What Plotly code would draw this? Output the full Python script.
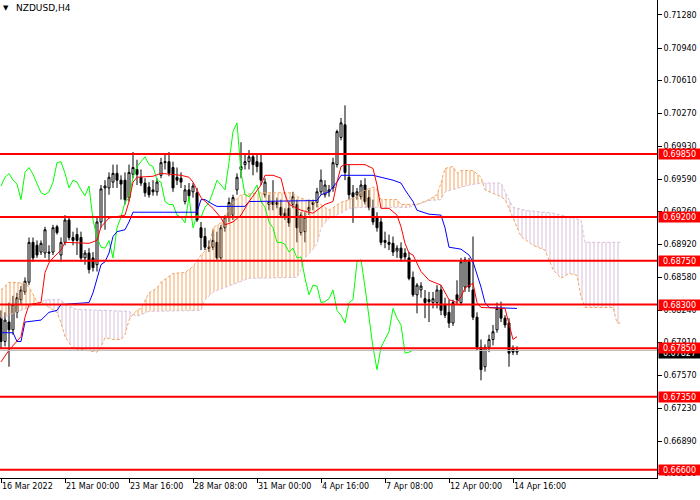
import plotly.graph_objects as go

# ---------------- data ----------------
tick_idx = [0, 16, 32, 48, 64, 80, 96, 112, 128]
tick_lbl = ["16 Mar 2022", "21 Mar 00:00", "23 Mar 16:00", "28 Mar 08:00", "31 Mar 00:00",
            "4 Apr 16:00", "7 Apr 08:00", "12 Apr 00:00", "14 Apr 16:00"]

price_ticks = [0.71280, 0.70940, 0.70610, 0.70270, 0.69930, 0.69590, 0.69260, 0.68920,
               0.68580, 0.68240, 0.67910, 0.67570, 0.67230, 0.66890, 0.66560]

levels = [0.69850, 0.69200, 0.68750, 0.68300, 0.67850, 0.67350, 0.66600]
bid = 0.67827

opens = [
    .6816, .6792, .6812, .6804, .6822, .6835, .6843, .6853, .6894, .6891,
    .6884, .6883, .6884, .6884, .6910, .6881, .6894, .6917, .6899, .6902,
    .6899, .6878, .6883, .6878, .6871, .6915, .6950, .6950, .6956, .6965,
    .6958, .6958, .6940, .6964, .6969, .6961, .6955, .6951, .6948, .6946,
    .6963, .6976, .6977, .6971, .6961, .6960, .6936, .6948, .6946, .6945,
    .6909, .6900, .6889, .6889, .6894, .6878, .6909, .6920, .6922, .6948,
    .6969, .6974, .6977, .6982, .6977, .6976, .6943, .6933, .6936, .6935,
    .6930, .6924, .6929, .6933, .6933, .6904, .6905, .6927, .6933, .6935,
    .6946, .6943, .6946, .6950, .6974, .7002, .7015, .6961, .6945, .6943,
    .6941, .6953, .6940, .6929, .6919, .6915, .6896, .6894, .6893, .6885,
    .6888, .6883, .6878, .6858, .6840, .6845, .6836, .6835, .6832, .6832,
    .6845, .6830, .6822, .6811, .6840, .6832, .6848, .6874, .6845, .6817,
    .6786, .6766, .6786, .6794, .6804, .6826, .6816, .6811, .6785, .6781]
highs = [
    .6824, .6822, .6832, .6839, .6842, .6849, .6858, .6899, .6899, .6896,
    .6896, .6910, .6891, .6912, .6912, .6899, .6922, .6919, .6905, .6909,
    .6905, .6886, .6888, .6884, .6919, .6953, .6958, .6966, .6974, .6974,
    .6963, .6966, .6974, .6987, .6979, .6969, .6960, .6956, .6958, .6960,
    .6981, .6984, .6987, .6977, .6971, .6966, .6953, .6955, .6955, .6950,
    .6915, .6909, .6896, .6907, .6905, .6912, .6922, .6940, .6943, .6965,
    .6997, .6984, .6989, .6986, .6984, .6984, .6960, .6943, .6958, .6940,
    .6938, .6929, .6936, .6946, .6938, .6925, .6925, .6938, .6938, .6950,
    .6969, .6958, .6953, .6981, .7010, .7022, .7035, .6974, .6953, .6950,
    .6958, .6960, .6948, .6938, .6925, .6919, .6905, .6902, .6900, .6891,
    .6894, .6888, .6884, .6864, .6852, .6853, .6845, .6843, .6843, .6850,
    .6850, .6837, .6835, .6835, .6855, .6878, .6879, .6878, .6900, .6822,
    .6794, .6789, .6799, .6809, .6832, .6833, .6819, .6816, .6788, .6787]
lows = [
    .6785, .6787, .6766, .6799, .6816, .6830, .6840, .6850, .6874, .6878,
    .6881, .6878, .6874, .6881, .6902, .6874, .6891, .6896, .6891, .6881,
    .6874, .6871, .6862, .6864, .6864, .6909, .6907, .6943, .6950, .6950,
    .6938, .6933, .6936, .6960, .6953, .6952, .6941, .6940, .6942, .6942,
    .6960, .6969, .6962, .6946, .6953, .6950, .6933, .6938, .6940, .6915,
    .6886, .6886, .6884, .6886, .6876, .6876, .6905, .6915, .6917, .6943,
    .6960, .6969, .6969, .6963, .6966, .6953, .6940, .6927, .6927, .6929,
    .6919, .6917, .6910, .6929, .6894, .6901, .6894, .6922, .6927, .6930,
    .6943, .6940, .6941, .6946, .6971, .6999, .6958, .6938, .6914, .6938,
    .6938, .6933, .6927, .6912, .6905, .6891, .6888, .6886, .6880, .6878,
    .6874, .6876, .6855, .6838, .6821, .6837, .6816, .6812, .6826, .6826,
    .6819, .6816, .6806, .6808, .6830, .6829, .6843, .6843, .6814, .6783,
    .6752, .6761, .6781, .6788, .6801, .6812, .6806, .6766, .6778, .6778]
closes = [
    .6792, .6814, .6804, .6830, .6837, .6845, .6854, .6894, .6878, .6881,
    .6893, .6907, .6883, .6909, .6904, .6894, .6917, .6899, .6896, .6896,
    .6878, .6883, .6866, .6868, .6915, .6949, .6952, .6961, .6965, .6958,
    .6954, .6938, .6966, .6971, .6964, .6955, .6945, .6943, .6946, .6956,
    .6976, .6977, .6965, .6950, .6958, .6956, .6948, .6942, .6952, .6917,
    .6899, .6889, .6888, .6896, .6878, .6909, .6920, .6935, .6940, .6961,
    .6972, .6977, .6982, .6974, .6972, .6958, .6956, .6936, .6933, .6933,
    .6922, .6920, .6914, .6941, .6909, .6922, .6920, .6930, .6935, .6946,
    .6958, .6953, .6948, .6976, .7008, .7017, .6966, .6943, .6941, .6946,
    .6953, .6936, .6930, .6915, .6909, .6894, .6894, .6892, .6884, .6888,
    .6878, .6879, .6857, .6840, .6850, .6849, .6832, .6833, .6836, .6845,
    .6824, .6819, .6811, .6832, .6835, .6874, .6876, .6848, .6817, .6786,
    .6763, .6786, .6794, .6802, .6826, .6816, .6809, .6780, .6781, .6783]

# Ichimoku lines, read at their vertices (bar index, price)
tenkan_i = [0, 2, 5, 6, 7, 10, 11, 12, 13, 15, 16, 22, 24, 25, 27, 31, 32, 33, 34, 38,
            40, 45, 47, 48, 50, 53, 55, 56, 58, 60, 62, 65, 66, 68, 70, 71, 72, 75, 78, 81,
            83, 84, 85, 86, 91, 93, 94, 95, 97, 99, 100, 101, 102, 103, 105, 107, 110, 111, 112, 114,
            115, 116, 118, 119, 120, 126, 127, 128, 129]
tenkan_v = [.6771, .6783, .6797, .6817, .6830, .6832, .6863, .6873, .6878, .6886,
            .6894, .6893, .6896, .6910, .6919, .6922, .6936, .6956, .6961, .6962,
            .6965, .6963, .6961, .6956, .6940, .6929, .6919, .6912, .6915, .6922,
            .6936, .6953, .6963, .6963, .6960, .6943, .6933, .6927, .6924, .6933,
            .6936, .6956, .6972, .6974, .6974, .6970, .6953, .6929, .6929, .6922,
            .6910, .6893, .6883, .6881, .6864, .6855, .6850, .6842, .6835, .6832,
            .6838, .6847, .6852, .6832, .6827, .6826, .6810, .6794, .6797]

kijun_i = [0, 3, 4, 5, 6, 10, 12, 14, 15, 22, 23, 24, 25, 26, 27, 28, 29, 31, 32, 33,
           49, 50, 51, 53, 54, 61, 62, 79, 80, 82, 84, 85, 93, 96, 98, 100, 101, 103, 104, 107,
           110, 111, 112, 115, 117, 118, 119, 120, 121, 122, 129]
kijun_v = [.6801, .6801, .6792, .6792, .6812, .6814, .6822, .6824, .6830, .6832,
           .6842, .6858, .6871, .6874, .6883, .6900, .6905, .6907, .6915, .6925,
           .6925, .6938, .6938, .6933, .6931, .6931, .6936, .6937, .6943, .6946,
           .6956, .6963, .6963, .6960, .6958, .6955, .6948, .6936, .6927, .6923,
           .6922, .6909, .6889, .6887, .6881, .6874, .6862, .6848, .6832, .6827, .6826]

span_a_i = [0, 2, 6, 7, 9, 10, 11, 12, 14, 15, 16, 18, 24, 25, 26, 28, 30, 31, 32, 33,
            34, 35, 37, 39, 40, 43, 46, 48, 50, 52, 53, 55, 58, 60, 65, 73, 74, 76, 80, 82,
            85, 87, 89, 90, 93, 94, 95, 99, 100, 104, 107, 109, 110, 111, 112, 113, 114, 115, 117, 118,
            120, 120.5, 121, 125, 126, 127, 129, 130, 133, 136, 138, 140, 142, 144, 145, 146, 153, 154, 155]
span_a_v = [.6845, .6853, .6852, .6848, .6833, .6832, .6830, .6827, .6822, .6811,
            .6797, .6785, .6781, .6786, .6796, .6794, .6794, .6799, .6814, .6820,
            .6824, .6826, .6842, .6847, .6853, .6862, .6863, .6869, .6881, .6889,
            .6909, .6914, .6935, .6943, .6945, .6945, .6941, .6938, .6933, .6927,
            .6935, .6938, .6941, .6946, .6951, .6948, .6938, .6938, .6933, .6933,
            .6938, .6943, .6955, .6970, .6971, .6972, .6965, .6968, .6968, .6968,
            .6961, .6955, .6948, .6941, .6938, .6929, .6910, .6900, .6891, .6886,
            .6866, .6857, .6862, .6860, .6838, .6827, .6827, .6811, .6811]

span_b_i = [0, 10, 11, 15, 16, 19, 32, 33, 34, 37, 50, 51, 53, 58, 62, 74, 75, 76, 79, 80,
            82, 85, 87, 90, 102, 107, 110, 111, 117, 120, 120.5, 125, 126, 128, 131, 138, 145, 146, 155]
span_b_v = [.6816, .6832, .6835, .6835, .6830, .6825, .6823, .6820, .6818, .6823,
            .6824, .6835, .6843, .6851, .6857, .6858, .6866, .6878, .6892, .6909,
            .6919, .6924, .6929, .6930, .6930, .6937, .6938, .6946, .6953, .6955,
            .6955, .6955, .6946, .6930, .6927, .6924, .6917, .6894, .6894]

# cloud sections between the crossings of span A and span B (bar index ranges)
bull_sections = [(0, 10), (33, 120.5)]
bear_sections = [(10, 33), (120.5, 155)]
chikou_shift = 26

# ---------------- figure ----------------
FONT = "DejaVu Sans"
idx = list(range(len(opens)))
fig = go.Figure()

fig.add_trace(go.Candlestick(
    x=idx, open=opens, high=highs, low=lows, close=closes,
    increasing=dict(line=dict(color="black", width=1), fillcolor="white"),
    decreasing=dict(line=dict(color="black", width=1), fillcolor="black"),
    whiskerwidth=0, hoverinfo="skip"))


def section(ix, vals, lo, hi):
    pts = [(i, v) for i, v in zip(ix, vals) if lo <= i <= hi]
    return [p[0] for p in pts], [p[1] for p in pts]


def cloud(top, bottom, lo, hi, color):
    tx, ty = section(top[0], top[1], lo, hi)
    bx, by = section(bottom[0], bottom[1], lo, hi)
    fig.add_trace(go.Scatter(
        x=tx + bx[::-1], y=ty + by[::-1], mode="lines", fill="toself",
        line=dict(width=0, color="rgba(0,0,0,0)"), fillcolor="rgba(0,0,0,0)",
        fillpattern=dict(shape="|", fgcolor=color, bgcolor="rgba(0,0,0,0)",
                         size=4, solidity=0.25, fgopacity=1),
        hoverinfo="skip"))


A = (span_a_i, span_a_v)
B = (span_b_i, span_b_v)
for lo, hi in bull_sections:
    cloud(A, B, lo, hi, "#f4a460")
for lo, hi in bear_sections:
    cloud(B, A, lo, hi, "#d8bfd8")

fig.add_trace(go.Scatter(x=span_b_i, y=span_b_v, mode="lines",
                         line=dict(color="#d8bfd8", width=1, dash="3px,2px"), hoverinfo="skip"))
fig.add_trace(go.Scatter(x=span_a_i, y=span_a_v, mode="lines",
                         line=dict(color="#f4a460", width=1, dash="3px,2px"), hoverinfo="skip"))

fig.add_trace(go.Scatter(x=[i - chikou_shift for i in idx[chikou_shift:]], y=closes[chikou_shift:],
                         mode="lines", line=dict(color="#00ff00", width=1), hoverinfo="skip"))
fig.add_trace(go.Scatter(x=kijun_i, y=kijun_v, mode="lines",
                         line=dict(color="#0000ff", width=1), hoverinfo="skip"))
fig.add_trace(go.Scatter(x=tenkan_i, y=tenkan_v, mode="lines",
                         line=dict(color="#ff0000", width=1), hoverinfo="skip"))

# bid line and horizontal levels
fig.add_shape(type="line", xref="paper", x0=0, x1=1, y0=bid, y1=bid,
              line=dict(color="#c0c0c0", width=1), layer="above")
for lv in levels:
    fig.add_shape(type="line", xref="paper", x0=0, x1=1, y0=lv, y1=lv,
                  line=dict(color="#ff0000", width=2), layer="above")

fig.add_annotation(xref="paper", x=1, y=bid, xanchor="left", yanchor="middle", xshift=1,
                   yshift=-2, text=f"{bid:.5f}", showarrow=False, bgcolor="black", width=41,
                   height=10, borderpad=0, font=dict(family=FONT, size=8, color="white"))
for lv in levels:
    fig.add_annotation(xref="paper", x=1, y=lv, xanchor="left", yanchor="middle", xshift=1,
                       text=f"{lv:.5f}", showarrow=False, bgcolor="#ff0000", width=41, height=10,
                       borderpad=0, font=dict(family=FONT, size=8, color="white"))

# title
fig.add_annotation(xref="paper", yref="paper", x=0, y=1, xanchor="left", yanchor="top",
                   xshift=1, yshift=-2, text="▼", showarrow=False,
                   font=dict(family=FONT, size=7, color="black"))
fig.add_annotation(xref="paper", yref="paper", x=0, y=1, xanchor="left", yanchor="top",
                   xshift=14, yshift=-1, text="NZDUSD,H4", showarrow=False,
                   font=dict(family=FONT, size=9, color="black"))

fig.update_layout(
    width=700, height=500,
    margin=dict(l=0, r=43, t=0, b=22),
    paper_bgcolor="white", plot_bgcolor="white",
    showlegend=False, boxgap=0.5, boxgroupgap=0,
    font=dict(family=FONT, size=8, color="black"),
    xaxis=dict(range=[-0.25, 164], tickvals=tick_idx, ticktext=tick_lbl,
               ticks="outside", ticklen=4, tickcolor="black", showline=True,
               linecolor="black", linewidth=1, showgrid=False, zeroline=False,
               ticklabelposition="outside right", rangeslider=dict(visible=False),
               tickfont=dict(family=FONT, size=8, color="black")),
    yaxis=dict(range=[0.66515, 0.71434], side="right", tickvals=price_ticks,
               ticktext=[f"{p:.5f}" for p in price_ticks], ticks="outside", ticklen=4,
               tickcolor="black", showline=True, linecolor="black", linewidth=1,
               showgrid=False, zeroline=False,
               tickfont=dict(family=FONT, size=8, color="black")),
)

fig.write_html("out.html", config={"displayModeBar": False},
               post_script="document.body.style.margin='0px';")
